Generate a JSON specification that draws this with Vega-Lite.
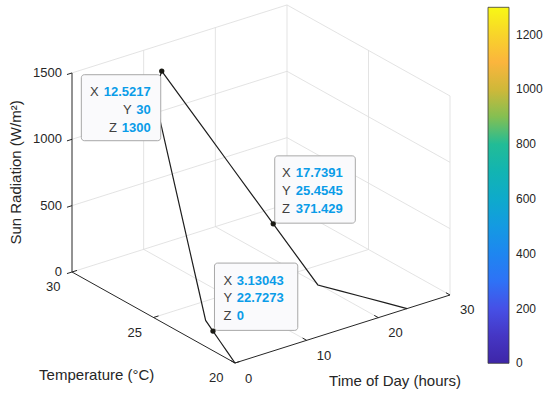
{
  "$schema": "https://vega.github.io/schema/vega-lite/v6.json",
  "width": 550,
  "height": 394,
  "padding": 0,
  "autosize": {"type": "none"},
  "background": "white",
  "config": {"view": {"stroke": null}, "font": "Liberation Sans"},
  "datasets": {
    "curve": [
      {"i": 0, "hour": 0, "temp": 20, "rad": 0},
      {"i": 1, "hour": 1.04348, "temp": 20.9091, "rad": 0},
      {"i": 2, "hour": 2.08696, "temp": 21.8182, "rad": 0},
      {"i": 3, "hour": 3.13043, "temp": 22.7273, "rad": 0},
      {"i": 4, "hour": 4.17391, "temp": 23.6364, "rad": 0},
      {"i": 5, "hour": 5.21739, "temp": 24.5455, "rad": 162.5},
      {"i": 6, "hour": 6.26087, "temp": 25.4545, "rad": 325},
      {"i": 7, "hour": 7.30435, "temp": 26.3636, "rad": 487.5},
      {"i": 8, "hour": 8.34783, "temp": 27.2727, "rad": 650},
      {"i": 9, "hour": 9.3913, "temp": 28.1818, "rad": 812.5},
      {"i": 10, "hour": 10.43478, "temp": 29.0909, "rad": 975},
      {"i": 11, "hour": 11.47826, "temp": 30, "rad": 1137.5},
      {"i": 12, "hour": 12.52174, "temp": 30, "rad": 1300},
      {"i": 13, "hour": 13.56522, "temp": 29.0909, "rad": 1114.286},
      {"i": 14, "hour": 14.6087, "temp": 28.1818, "rad": 928.571},
      {"i": 15, "hour": 15.65217, "temp": 27.2727, "rad": 742.857},
      {"i": 16, "hour": 16.69565, "temp": 26.3636, "rad": 557.143},
      {"i": 17, "hour": 17.73913, "temp": 25.4545, "rad": 371.429},
      {"i": 18, "hour": 18.78261, "temp": 24.5455, "rad": 185.714},
      {"i": 19, "hour": 19.82609, "temp": 23.6364, "rad": 0},
      {"i": 20, "hour": 20.86957, "temp": 22.7273, "rad": 0},
      {"i": 21, "hour": 21.91304, "temp": 21.8182, "rad": 0},
      {"i": 22, "hour": 22.95652, "temp": 20.9091, "rad": 0},
      {"i": 23, "hour": 24, "temp": 20, "rad": 0}
    ],
    "grid": [
      {"X1": 0, "Y1": 30, "Z1": 0, "X2": 30, "Y2": 30, "Z2": 0},
      {"X1": 0, "Y1": 30, "Z1": 500, "X2": 30, "Y2": 30, "Z2": 500},
      {"X1": 0, "Y1": 30, "Z1": 1000, "X2": 30, "Y2": 30, "Z2": 1000},
      {"X1": 0, "Y1": 30, "Z1": 1500, "X2": 30, "Y2": 30, "Z2": 1500},
      {"X1": 10, "Y1": 30, "Z1": 0, "X2": 10, "Y2": 30, "Z2": 1500},
      {"X1": 20, "Y1": 30, "Z1": 0, "X2": 20, "Y2": 30, "Z2": 1500},
      {"X1": 30, "Y1": 30, "Z1": 0, "X2": 30, "Y2": 30, "Z2": 1500},
      {"X1": 30, "Y1": 20, "Z1": 0, "X2": 30, "Y2": 30, "Z2": 0},
      {"X1": 30, "Y1": 20, "Z1": 500, "X2": 30, "Y2": 30, "Z2": 500},
      {"X1": 30, "Y1": 20, "Z1": 1000, "X2": 30, "Y2": 30, "Z2": 1000},
      {"X1": 30, "Y1": 20, "Z1": 1500, "X2": 30, "Y2": 30, "Z2": 1500},
      {"X1": 30, "Y1": 20, "Z1": 0, "X2": 30, "Y2": 20, "Z2": 1500},
      {"X1": 30, "Y1": 25, "Z1": 0, "X2": 30, "Y2": 25, "Z2": 1500},
      {"X1": 10, "Y1": 20, "Z1": 0, "X2": 10, "Y2": 30, "Z2": 0},
      {"X1": 20, "Y1": 20, "Z1": 0, "X2": 20, "Y2": 30, "Z2": 0},
      {"X1": 0, "Y1": 25, "Z1": 0, "X2": 30, "Y2": 25, "Z2": 0}
    ],
    "axes": [
      {"X1": 0, "Y1": 30, "Z1": 0, "X2": 0, "Y2": 30, "Z2": 1500},
      {"X1": 0, "Y1": 20, "Z1": 0, "X2": 0, "Y2": 30, "Z2": 0},
      {"X1": 0, "Y1": 20, "Z1": 0, "X2": 30, "Y2": 20, "Z2": 0}
    ],
    "ticks": [
      {"axis": "Z", "v": 0}, {"axis": "Z", "v": 500}, {"axis": "Z", "v": 1000}, {"axis": "Z", "v": 1500},
      {"axis": "Y", "v": 20}, {"axis": "Y", "v": 25}, {"axis": "Y", "v": 30},
      {"axis": "X", "v": 0}, {"axis": "X", "v": 10}, {"axis": "X", "v": 20}, {"axis": "X", "v": 30}
    ],
    "tips": [
      {"tip": 1, "X": 12.5217, "Y": 30, "Z": 1300},
      {"tip": 2, "X": 17.7391, "Y": 25.4545, "Z": 371.429},
      {"tip": 3, "X": 3.13043, "Y": 22.7273, "Z": 0}
    ],
    "tiptext": [
      {"tip": 1, "row": 1, "label": "X", "value": "12.5217", "X": 12.5217, "Y": 30, "Z": 1300},
      {"tip": 1, "row": 2, "label": "Y", "value": "30", "X": 12.5217, "Y": 30, "Z": 1300},
      {"tip": 1, "row": 3, "label": "Z", "value": "1300", "X": 12.5217, "Y": 30, "Z": 1300},
      {"tip": 2, "row": 1, "label": "X", "value": "17.7391", "X": 17.7391, "Y": 25.4545, "Z": 371.429},
      {"tip": 2, "row": 2, "label": "Y", "value": "25.4545", "X": 17.7391, "Y": 25.4545, "Z": 371.429},
      {"tip": 2, "row": 3, "label": "Z", "value": "371.429", "X": 17.7391, "Y": 25.4545, "Z": 371.429},
      {"tip": 3, "row": 1, "label": "X", "value": "3.13043", "X": 3.13043, "Y": 22.7273, "Z": 0},
      {"tip": 3, "row": 2, "label": "Y", "value": "22.7273", "X": 3.13043, "Y": 22.7273, "Z": 0},
      {"tip": 3, "row": 3, "label": "Z", "value": "0", "X": 3.13043, "Y": 22.7273, "Z": 0}
    ]
  },
  "encoding": {
    "x": {"field": "px", "type": "quantitative", "scale": {"domain": [0, 550], "nice": false, "zero": false}, "axis": null},
    "y": {"field": "py", "type": "quantitative", "scale": {"domain": [0, 394], "nice": false, "zero": false, "reverse": true}, "axis": null}
  },
  "layer": [
    {
      "data": {"name": "grid"},
      "transform": [
        {"calculate": "235 + 7.167*datum.X1 - 16.3*(datum.Y1-20)", "as": "px"},
        {"calculate": "363 - 2.267*datum.X1 - 9.1*(datum.Y1-20) - 0.1327*datum.Z1", "as": "py"},
        {"calculate": "235 + 7.167*datum.X2 - 16.3*(datum.Y2-20)", "as": "px2"},
        {"calculate": "363 - 2.267*datum.X2 - 9.1*(datum.Y2-20) - 0.1327*datum.Z2", "as": "py2"}
      ],
      "mark": {"type": "rule", "color": "#dcdcdc", "strokeWidth": 0.8},
      "encoding": {"x2": {"field": "px2"}, "y2": {"field": "py2"}}
    },
    {
      "data": {"name": "axes"},
      "transform": [
        {"calculate": "235 + 7.167*datum.X1 - 16.3*(datum.Y1-20)", "as": "px"},
        {"calculate": "363 - 2.267*datum.X1 - 9.1*(datum.Y1-20) - 0.1327*datum.Z1", "as": "py"},
        {"calculate": "235 + 7.167*datum.X2 - 16.3*(datum.Y2-20)", "as": "px2"},
        {"calculate": "363 - 2.267*datum.X2 - 9.1*(datum.Y2-20) - 0.1327*datum.Z2", "as": "py2"}
      ],
      "mark": {"type": "rule", "color": "#262626", "strokeWidth": 1},
      "encoding": {"x2": {"field": "px2"}, "y2": {"field": "py2"}}
    },
    {
      "data": {"name": "ticks"},
      "transform": [
        {"calculate": "datum.axis == 'X' ? datum.v : 0", "as": "X"},
        {"calculate": "datum.axis == 'Y' ? datum.v : (datum.axis == 'Z' ? 30 : 20)", "as": "Y"},
        {"calculate": "datum.axis == 'Z' ? datum.v : 0", "as": "Z"},
        {"calculate": "datum.X + (datum.axis == 'Z' ? -0.7 : datum.axis == 'Y' ? 0.7 : 0)", "as": "X2"},
        {"calculate": "datum.Y + (datum.axis == 'X' ? 0.25 : 0)", "as": "Y2"},
        {"calculate": "235 + 7.167*datum.X - 16.3*(datum.Y-20)", "as": "px"},
        {"calculate": "363 - 2.267*datum.X - 9.1*(datum.Y-20) - 0.1327*datum.Z", "as": "py"},
        {"calculate": "235 + 7.167*datum.X2 - 16.3*(datum.Y2-20)", "as": "px2"},
        {"calculate": "363 - 2.267*datum.X2 - 9.1*(datum.Y2-20) - 0.1327*datum.Z", "as": "py2"}
      ],
      "mark": {"type": "rule", "color": "#262626", "strokeWidth": 1},
      "encoding": {"x2": {"field": "px2"}, "y2": {"field": "py2"}}
    },
    {
      "data": {"name": "ticks"},
      "transform": [
        {"filter": "datum.axis == 'Z'"},
        {"calculate": "235 - 16.3*10", "as": "px"},
        {"calculate": "363 - 9.1*10 - 0.1327*datum.v", "as": "py"}
      ],
      "mark": {"type": "text", "align": "right", "baseline": "middle", "fontSize": 13, "color": "#262626", "xOffset": -10},
      "encoding": {"text": {"field": "v", "type": "quantitative", "format": "d"}}
    },
    {
      "data": {"name": "ticks"},
      "transform": [
        {"filter": "datum.axis == 'Y'"},
        {"calculate": "235 - 16.3*(datum.v-20)", "as": "px"},
        {"calculate": "363 - 9.1*(datum.v-20)", "as": "py"}
      ],
      "mark": {"type": "text", "align": "right", "baseline": "middle", "fontSize": 13, "color": "#262626", "xOffset": -11.6, "yOffset": 15},
      "encoding": {"text": {"field": "v", "type": "quantitative", "format": "d"}}
    },
    {
      "data": {"name": "ticks"},
      "transform": [
        {"filter": "datum.axis == 'X'"},
        {"calculate": "235 + 7.167*datum.v", "as": "px"},
        {"calculate": "363 - 2.267*datum.v", "as": "py"}
      ],
      "mark": {"type": "text", "align": "left", "baseline": "middle", "fontSize": 13, "color": "#262626", "xOffset": 10, "yOffset": 15.5},
      "encoding": {"text": {"field": "v", "type": "quantitative", "format": "d"}}
    },
    {
      "data": {"values": [{"title": "Sun Radiation (W/m²)", "X": 0, "Y": 30, "Z": 750}]},
      "transform": [
        {"calculate": "235 + 7.167*datum.X - 16.3*(datum.Y-20)", "as": "px"},
        {"calculate": "363 - 2.267*datum.X - 9.1*(datum.Y-20) - 0.1327*datum.Z", "as": "py"}
      ],
      "mark": {"type": "text", "align": "center", "baseline": "middle", "fontSize": 15, "color": "#262626", "angle": 270, "xOffset": -56},
      "encoding": {"text": {"field": "title"}}
    },
    {
      "data": {"values": [{"title": "Temperature (°C)", "X": 0, "Y": 25, "Z": 0}]},
      "transform": [
        {"calculate": "235 + 7.167*datum.X - 16.3*(datum.Y-20)", "as": "px"},
        {"calculate": "363 - 2.267*datum.X - 9.1*(datum.Y-20) - 0.1327*datum.Z", "as": "py"}
      ],
      "mark": {"type": "text", "align": "center", "baseline": "middle", "fontSize": 15, "color": "#262626", "xOffset": -56.8, "yOffset": 57.5},
      "encoding": {"text": {"field": "title"}}
    },
    {
      "data": {"values": [{"title": "Time of Day (hours)", "X": 15, "Y": 20, "Z": 0}]},
      "transform": [
        {"calculate": "235 + 7.167*datum.X - 16.3*(datum.Y-20)", "as": "px"},
        {"calculate": "363 - 2.267*datum.X - 9.1*(datum.Y-20) - 0.1327*datum.Z", "as": "py"}
      ],
      "mark": {"type": "text", "align": "center", "baseline": "middle", "fontSize": 15, "color": "#262626", "xOffset": 52.5, "yOffset": 52},
      "encoding": {"text": {"field": "title"}}
    },
    {
      "data": {"name": "curve"},
      "transform": [
        {"calculate": "235 + 7.167*datum.hour - 16.3*(datum.temp-20)", "as": "px"},
        {"calculate": "363 - 2.267*datum.hour - 9.1*(datum.temp-20) - 0.1327*datum.rad", "as": "py"}
      ],
      "mark": {"type": "line", "color": "#1e1e1e", "strokeWidth": 1.2},
      "encoding": {"order": {"field": "i", "type": "quantitative"}}
    },
    {
      "data": {"name": "curve"},
      "transform": [
        {"calculate": "235 + 7.167*datum.hour - 16.3*(datum.temp-20)", "as": "px"},
        {"calculate": "363 - 2.267*datum.hour - 9.1*(datum.temp-20) - 0.1327*datum.rad", "as": "py"}
      ],
      "mark": {"type": "point", "filled": true, "size": 0, "strokeWidth": 0, "opacity": 1},
      "encoding": {
        "color": {
          "field": "rad",
          "type": "quantitative",
          "scale": {
            "domain": [0, 100, 200, 300, 400, 500, 600, 700, 800, 900, 1000, 1100, 1200, 1300],
            "range": ["#3e26a8", "#4536c4", "#4650e6", "#2e72f6", "#1e86f0", "#149ae2", "#0eaacb", "#12b4b2", "#22bc96", "#84bf52", "#cfb839", "#fbb53d", "#f8d42a", "#f8f815"]
          },
          "legend": {
            "orient": "none",
            "legendX": 488,
            "legendY": 7.3,
            "direction": "vertical",
            "title": null,
            "gradientLength": 356,
            "gradientThickness": 21,
            "gradientStrokeColor": "#3a3a3a",
            "gradientStrokeWidth": 0.8,
            "gradientOpacity": 1,
            "values": [0, 200, 400, 600, 800, 1000, 1200],
            "format": "d",
            "labelFontSize": 12,
            "labelOffset": 7,
            "labelColor": "#262626",
            "labelBaseline": "middle",
            "labelOverlap": false,
            "padding": 0,
            "encode": {
              "gradient": {"update": {"opacity": {"value": 1}}},
              "labels": {"update": {"baseline": {"value": "middle"}}}
            }
          }
        }
      }
    },
    {
      "data": {"name": "tips"},
      "transform": [
        {"calculate": "235 + 7.167*datum.X - 16.3*(datum.Y-20)", "as": "ax"},
        {"calculate": "363 - 2.267*datum.X - 9.1*(datum.Y-20) - 0.1327*datum.Z", "as": "ay"},
        {"calculate": "datum.ax + (datum.tip == 1 ? -80.4 : 1.5)", "as": "px"},
        {"calculate": "datum.ax + (datum.tip == 1 ? -1 : datum.tip == 2 ? 82.1 : 84.8)", "as": "px2"},
        {"calculate": "datum.ay + (datum.tip == 1 ? 3.6 : -68)", "as": "py"},
        {"calculate": "datum.ay + (datum.tip == 1 ? 69.6 : -0.7)", "as": "py2"}
      ],
      "mark": {"type": "rect", "fill": "#fafafc", "stroke": "#a8a8a8", "strokeWidth": 1, "cornerRadius": 3},
      "encoding": {"x2": {"field": "px2"}, "y2": {"field": "py2"}}
    },
    {
      "data": {"name": "tiptext"},
      "transform": [
        {"filter": "datum.tip != 1"},
        {"calculate": "235 + 7.167*datum.X - 16.3*(datum.Y-20)", "as": "ax"},
        {"calculate": "363 - 2.267*datum.X - 9.1*(datum.Y-20) - 0.1327*datum.Z", "as": "ay"},
        {"calculate": "datum.ax + (datum.tip == 2 ? 8.8 : 10.4)", "as": "px"},
        {"calculate": "datum.ay - 50.5 + (datum.row - 1)*17.7", "as": "py"}
      ],
      "mark": {"type": "text", "align": "left", "baseline": "middle", "fontSize": 13, "color": "#404040"},
      "encoding": {"text": {"field": "label"}}
    },
    {
      "data": {"name": "tiptext"},
      "transform": [
        {"filter": "datum.tip != 1"},
        {"calculate": "235 + 7.167*datum.X - 16.3*(datum.Y-20)", "as": "ax"},
        {"calculate": "363 - 2.267*datum.X - 9.1*(datum.Y-20) - 0.1327*datum.Z", "as": "ay"},
        {"calculate": "datum.ax + (datum.tip == 2 ? 22.5 : 23.8)", "as": "px"},
        {"calculate": "datum.ay - 50.5 + (datum.row - 1)*17.7", "as": "py"}
      ],
      "mark": {"type": "text", "align": "left", "baseline": "middle", "fontSize": 13, "fontWeight": "bold", "color": "#0a9ce8"},
      "encoding": {"text": {"field": "value"}}
    },
    {
      "data": {"name": "tiptext"},
      "transform": [
        {"filter": "datum.tip == 1"},
        {"calculate": "235 + 7.167*datum.X - 16.3*(datum.Y-20)", "as": "ax"},
        {"calculate": "363 - 2.267*datum.X - 9.1*(datum.Y-20) - 0.1327*datum.Z", "as": "ay"},
        {"calculate": "datum.ax - 15.3 - (length(datum.value) - (indexof(datum.value, '.') >= 0 ? 1 : 0))*7.35 - (indexof(datum.value, '.') >= 0 ? 3.6 : 0)", "as": "px"},
        {"calculate": "datum.ay + 20.9 + (datum.row - 1)*17.9", "as": "py"}
      ],
      "mark": {"type": "text", "align": "right", "baseline": "middle", "fontSize": 13, "color": "#404040"},
      "encoding": {"text": {"field": "label"}}
    },
    {
      "data": {"name": "tiptext"},
      "transform": [
        {"filter": "datum.tip == 1"},
        {"calculate": "235 + 7.167*datum.X - 16.3*(datum.Y-20)", "as": "ax"},
        {"calculate": "363 - 2.267*datum.X - 9.1*(datum.Y-20) - 0.1327*datum.Z", "as": "ay"},
        {"calculate": "datum.ax - 11", "as": "px"},
        {"calculate": "datum.ay + 20.9 + (datum.row - 1)*17.9", "as": "py"}
      ],
      "mark": {"type": "text", "align": "right", "baseline": "middle", "fontSize": 13, "fontWeight": "bold", "color": "#0a9ce8"},
      "encoding": {"text": {"field": "value"}}
    },
    {
      "data": {"name": "tips"},
      "transform": [
        {"calculate": "235 + 7.167*datum.X - 16.3*(datum.Y-20)", "as": "px"},
        {"calculate": "363 - 2.267*datum.X - 9.1*(datum.Y-20) - 0.1327*datum.Z", "as": "py"}
      ],
      "mark": {"type": "point", "filled": true, "size": 28, "color": "#1a1a14", "opacity": 1}
    }
  ]
}
